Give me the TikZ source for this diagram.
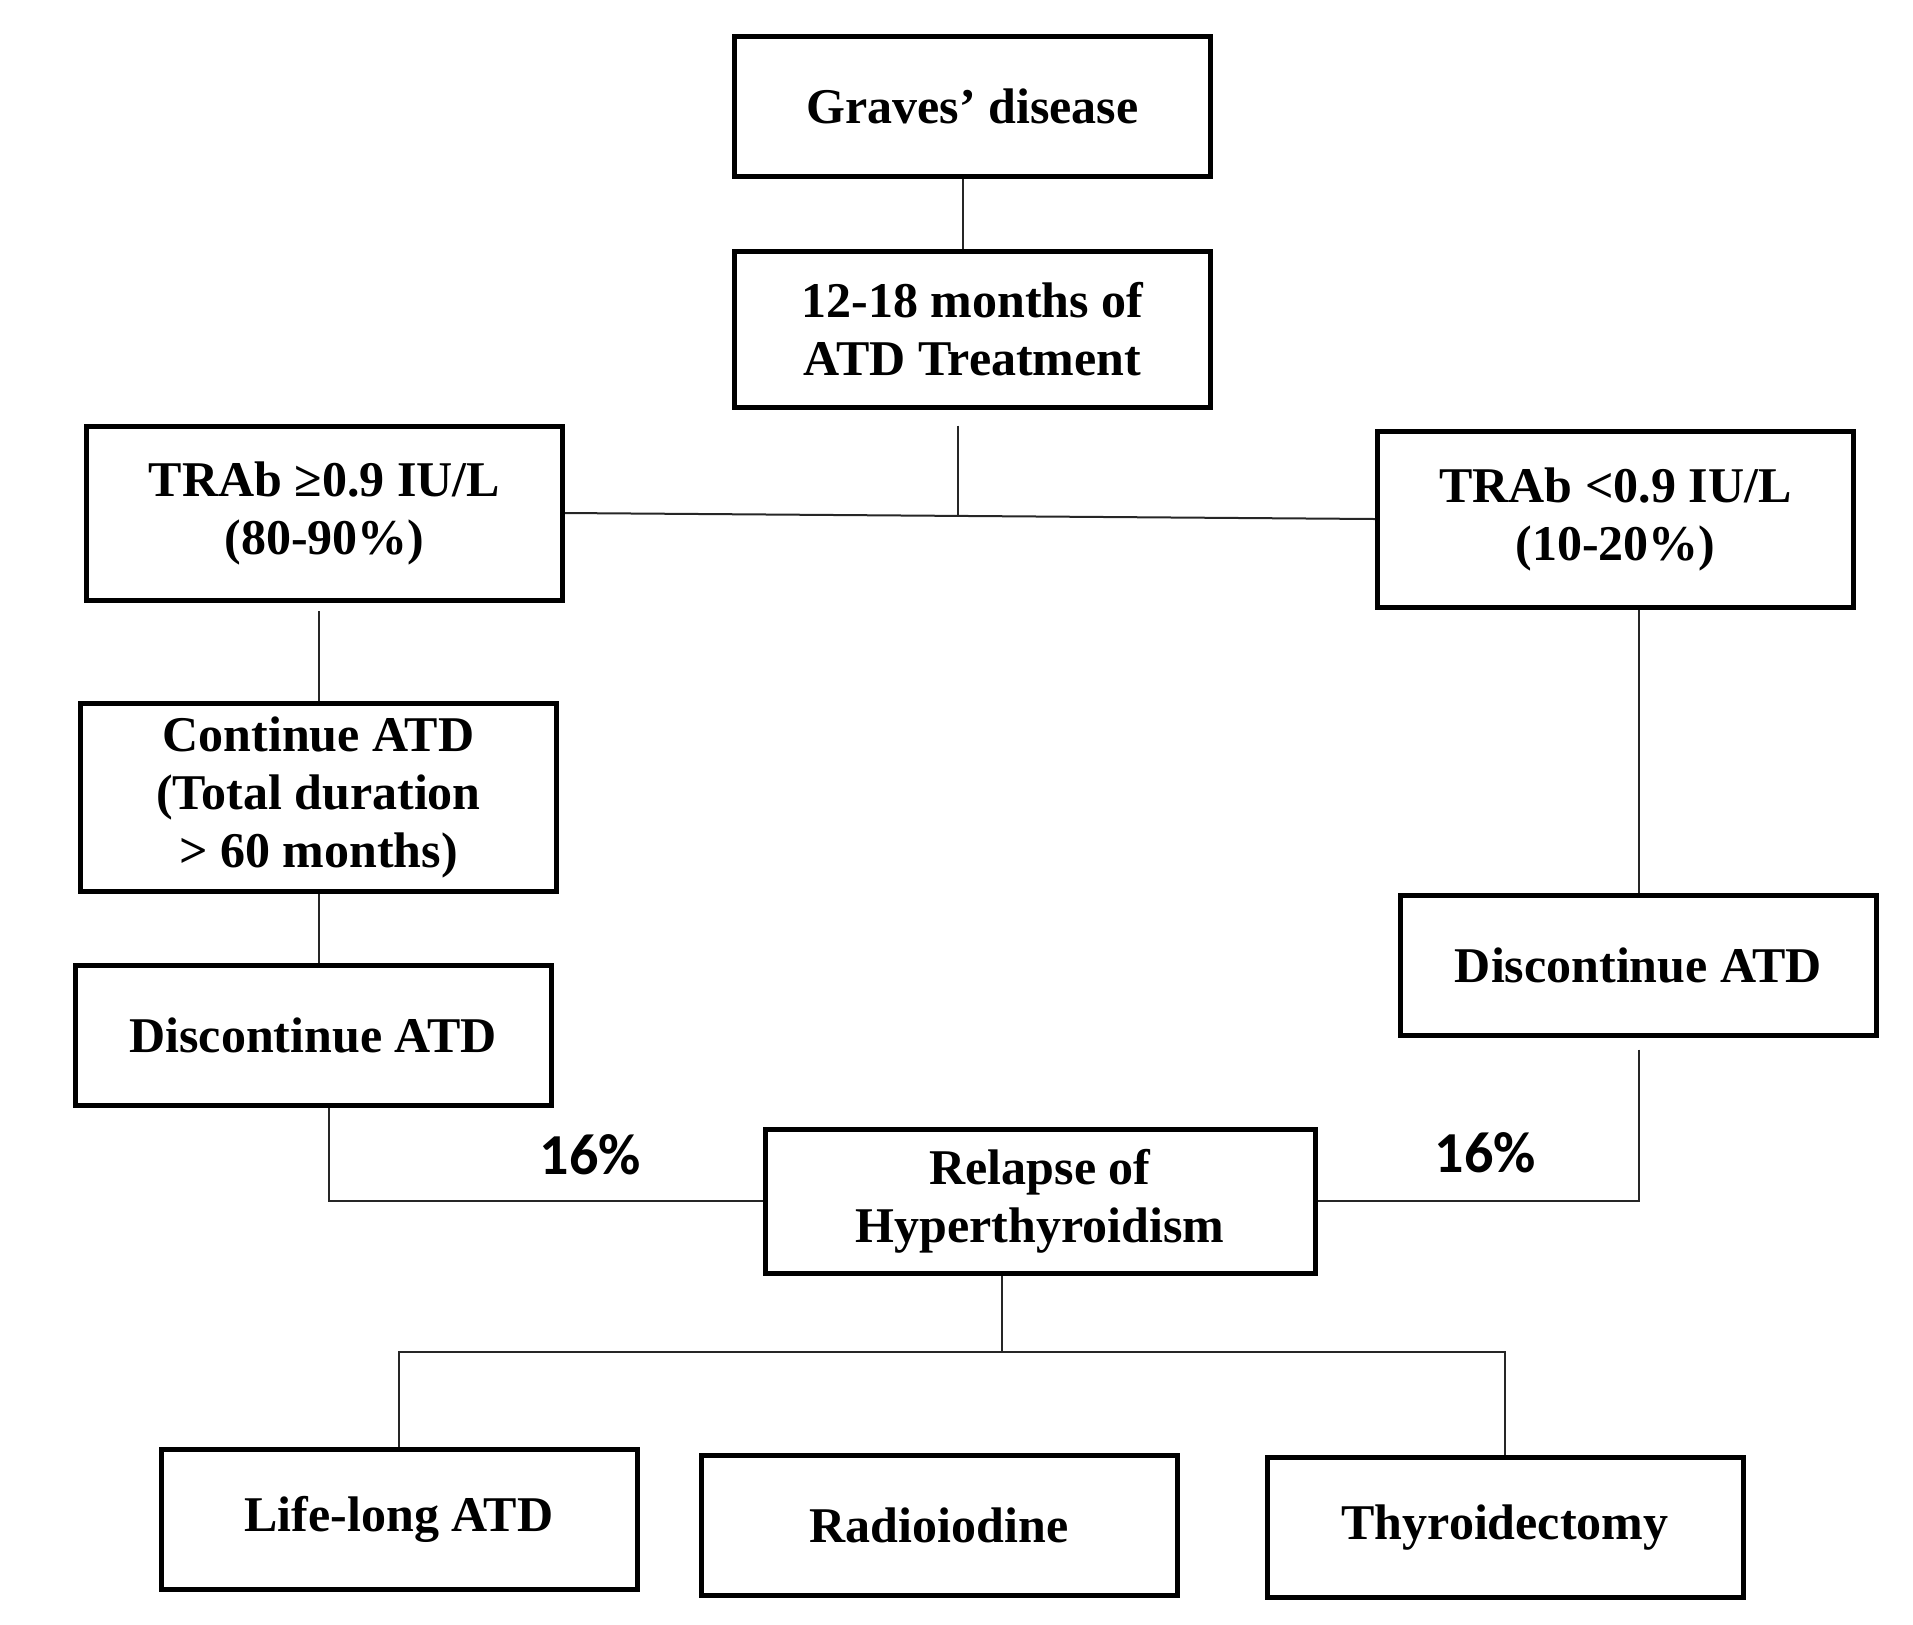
\documentclass[tikz,border=0pt]{standalone}
\usepackage{fontspec}
\setmainfont{Liberation Serif}
\newfontfamily\pctfont{Carlito}
\usetikzlibrary{positioning, calc}

\begin{document}
\begin{tikzpicture}[
    box/.style={rectangle, draw, line width=2.5pt, minimum width=238pt,
    minimum height=70pt, align=center, font=\fontsize{25}{29}\selectfont\bfseries},
    link/.style={line width=1pt, black!85},
    pct/.style={font=\pctfont\fontsize{29}{32}\selectfont\bfseries}
]

\useasboundingbox (0,0) rectangle (956.5pt,-812pt);

\node[box] (graves) at (486.25pt,-53pt) {Graves’ disease};
\node[box, minimum height=78pt, below=35pt of graves] (treat) {12-18 months of\\ATD Treatment};
\node[box, minimum height=87pt, below left=7pt and 83.5pt of treat] (trabhigh) {TRAb ≥0.9 IU/L\\(80-90\%)};
\node[box, minimum height=88pt, below right=9.5pt and 81pt of treat] (trablow) {TRAb <0.9 IU/L\\(10-20\%)};
\node[box, minimum height=94pt, below=49pt of trabhigh, xshift=-3pt] (cont) {Continue ATD\\(Total duration\\> 60 months)};
\node[box, below=34.5pt of cont, xshift=-2.75pt] (dischigh) {Discontinue ATD};
\node[box, below=141.5pt of trablow, xshift=11.5pt] (disclow) {Discontinue ATD};
\node[box, minimum width=275pt, minimum height=72pt, below=358.5pt of treat, xshift=33.75pt] (relapse) {Relapse of\\Hyperthyroidism};
\node[box, below=88.5pt of relapse, xshift=-50.5pt] (radio) {Radioiodine};
\node[box, left=29.5pt of radio, yshift=3pt] (lifelong) {Life-long ATD};
\node[box, right=42.5pt of radio, yshift=-1.25pt] (thyro) {Thyroidectomy};

\node[pct] (pcthigh) at ([xshift=-86pt, yshift=23pt]relapse.west) {16\%};
\node[pct] (pctlow) at ([xshift=84pt, yshift=24pt]relapse.east) {16\%};

\coordinate (split1) at ($(trabhigh.east)!0.485!(trablow.west)$);
\coordinate[below=38pt of relapse.south, xshift=-19pt] (split2);

\draw[link] ([xshift=-5pt]graves.south) -- ([xshift=-5pt]treat.north);
\draw[link, shorten <=8pt] (treat.south -| split1) -- (split1);
\draw[link] (trabhigh.east) -- (trablow.west);
\draw[link, shorten >=4pt] (cont.north) -- (cont.north |- trabhigh.south);
\draw[link] (cont.south) -- (cont.south |- dischigh.north);
\draw[link] (disclow.north) -- (disclow.north |- trablow.south);
\draw[link] ([xshift=8pt]dischigh.south) |- (relapse.west);
\draw[link, shorten <=6pt] (disclow.south) |- (relapse.east);
\draw[link] ([xshift=-19pt]relapse.south) -- (split2);
\draw[link] (lifelong.north) |- (split2) -| (thyro.north);

\end{tikzpicture}
\end{document}
